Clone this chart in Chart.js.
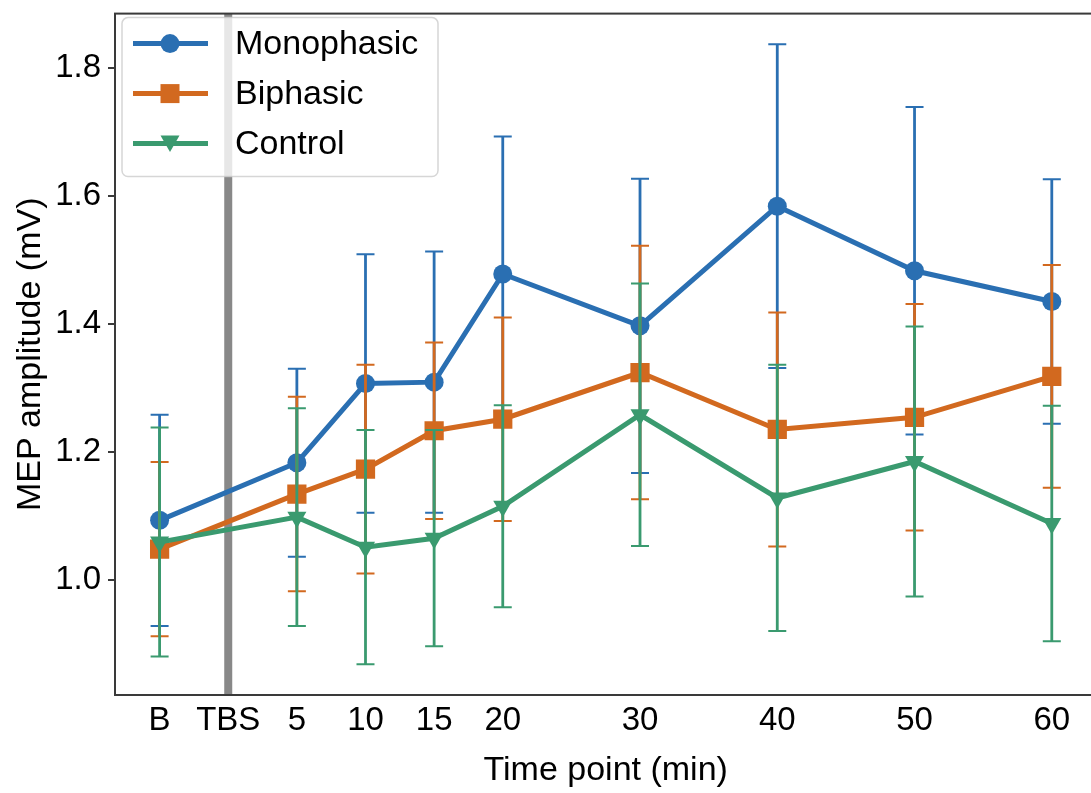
<!DOCTYPE html>
<html>
<head>
<meta charset="utf-8">
<script src="https://cdn.jsdelivr.net/npm/chart.js@4.4.1/dist/chart.umd.min.js"></script>
<style>
  html, body { margin: 0; padding: 0; background: #fff; overflow: hidden; }
  #wrap { width: 1110px; height: 793px; position: relative; }
</style>
</head>
<body>
<div id="wrap"><canvas id="chart"></canvas></div>
<script>
'use strict';

// time points in minutes (B = -5, TBS = 0)
const timePoints = [-5, 5, 10, 15, 20, 30, 40, 50, 60];
const xTickValues = [-5, 0, 5, 10, 15, 20, 30, 40, 50, 60];
const xTickLabels = ['B', 'TBS', '5', '10', '15', '20', '30', '40', '50', '60'];
const yTickValues = [1.0, 1.2, 1.4, 1.6, 1.8];
const tbsPosition = 0;

const monoMean = [1.093, 1.183, 1.307, 1.309, 1.478, 1.397, 1.584, 1.483, 1.435];
const monoErr = [0.165, 0.147, 0.202, 0.204, 0.215, 0.230, 0.253, 0.256, 0.191];
const biMean = [1.048, 1.134, 1.173, 1.233, 1.251, 1.324, 1.235, 1.254, 1.318];
const biErr = [0.136, 0.152, 0.163, 0.138, 0.159, 0.198, 0.183, 0.177, 0.174];
const ctrlMean = [1.059, 1.098, 1.051, 1.065, 1.115, 1.258, 1.128, 1.185, 1.088];
const ctrlErr = [0.179, 0.170, 0.183, 0.169, 0.158, 0.205, 0.208, 0.211, 0.184];

const COLORS = { mono: '#2a6fb2', bi: '#d2691f', ctrl: '#3a9a6f' };
const FONT = '"Liberation Sans", Arial, Helvetica, sans-serif';

function toPoints(means) {
  return timePoints.map((t, i) => ({ x: t, y: means[i] }));
}

function makeDataset(label, means, errs, color, style, radius, rotation, order) {
  return {
    label,
    data: toPoints(means),
    errors: errs,
    borderColor: color,
    backgroundColor: color,
    borderWidth: 5,
    pointStyle: style,
    pointRadius: radius,
    pointRotation: rotation,
    pointBorderWidth: 0,
    pointBackgroundColor: color,
    tension: 0,
    order
  };
}

// error bars drawn just before each dataset so that stacking matches
const errorBars = {
  id: 'errorBars',
  beforeDatasetDraw(chart, args) {
    const ds = chart.data.datasets[args.index];
    const yScale = chart.scales.y;
    const ctx = chart.ctx;
    ctx.save();
    ctx.strokeStyle = ds.borderColor;
    args.meta.data.forEach((pt, i) => {
      const v = ds.data[i].y;
      const e = ds.errors[i];
      const top = yScale.getPixelForValue(v + e);
      const bot = yScale.getPixelForValue(v - e);
      ctx.lineWidth = 2.8;
      ctx.beginPath();
      ctx.moveTo(pt.x, top);
      ctx.lineTo(pt.x, bot);
      ctx.stroke();
      ctx.lineWidth = 2;
      ctx.beginPath();
      ctx.moveTo(pt.x - 9, top);
      ctx.lineTo(pt.x + 9, top);
      ctx.moveTo(pt.x - 9, bot);
      ctx.lineTo(pt.x + 9, bot);
      ctx.stroke();
    });
    ctx.restore();
  }
};

const tbsLine = {
  id: 'tbsLine',
  beforeDatasetsDraw(chart) {
    const { ctx, chartArea } = chart;
    const x = chart.scales.x.getPixelForValue(tbsPosition);
    ctx.save();
    ctx.strokeStyle = '#888888';
    ctx.lineWidth = 8;
    ctx.beginPath();
    ctx.moveTo(x, chartArea.top);
    ctx.lineTo(x, chartArea.bottom);
    ctx.stroke();
    ctx.restore();
  }
};

function drawMarker(ctx, style, x, y, color) {
  ctx.fillStyle = color;
  ctx.beginPath();
  if (style === 'circle') {
    ctx.arc(x, y, 9.5, 0, Math.PI * 2);
  } else if (style === 'rect') {
    ctx.rect(x - 9.5, y - 9.5, 19, 19);
  } else {
    ctx.moveTo(x - 9.5, y - 8);
    ctx.lineTo(x + 9.5, y - 8);
    ctx.lineTo(x, y + 8.5);
    ctx.closePath();
  }
  ctx.fill();
}

const frameAndLegend = {
  id: 'frameAndLegend',
  afterDatasetsDraw(chart) {
    const { ctx, chartArea } = chart;
    ctx.save();
    ctx.strokeStyle = '#3a3a3a';
    ctx.lineWidth = 2;
    ctx.strokeRect(chartArea.left, chartArea.top, chartArea.right - chartArea.left, chartArea.bottom - chartArea.top);

    // legend box
    const bx = chartArea.left + 7, by = chartArea.top + 4, bw = 316, bh = 159, r = 6;
    ctx.beginPath();
    ctx.moveTo(bx + r, by);
    ctx.arcTo(bx + bw, by, bx + bw, by + bh, r);
    ctx.arcTo(bx + bw, by + bh, bx, by + bh, r);
    ctx.arcTo(bx, by + bh, bx, by, r);
    ctx.arcTo(bx, by, bx + bw, by, r);
    ctx.closePath();
    ctx.fillStyle = 'rgba(255,255,255,0.8)';
    ctx.fill();
    ctx.strokeStyle = 'rgba(204,204,204,0.8)';
    ctx.lineWidth = 1.5;
    ctx.stroke();

    const rows = [...chart.data.datasets].sort((a, b) => b.order - a.order);
    rows.forEach((ds, i) => {
      const y = by + 26 + i * 50;
      ctx.strokeStyle = ds.borderColor;
      ctx.lineWidth = 5;
      ctx.beginPath();
      ctx.moveTo(bx + 11, y);
      ctx.lineTo(bx + 86, y);
      ctx.stroke();
      drawMarker(ctx, ds.pointStyle, bx + 48, y, ds.borderColor);
      ctx.fillStyle = '#000';
      ctx.font = '34px ' + FONT;
      ctx.textBaseline = 'middle';
      ctx.textAlign = 'left';
      ctx.fillText(ds.label, bx + 113, y + 1);
    });
    ctx.restore();
  }
};

const datasets = [
  makeDataset('Monophasic', monoMean, monoErr, COLORS.mono, 'circle', 9.5, 0, 3),
  makeDataset('Biphasic', biMean, biErr, COLORS.bi, 'rect', 13.6, 0, 2),
  makeDataset('Control', ctrlMean, ctrlErr, COLORS.ctrl, 'triangle', 11, 180, 1)
];

new Chart(document.getElementById('chart'), {
  type: 'line',
  data: { datasets },
  options: {
    responsive: true,
    maintainAspectRatio: false,
    animation: false,
    layout: { padding: { top: 12, right: 13, bottom: 0, left: 0 } },
    plugins: {
      legend: { display: false },
      tooltip: { enabled: false }
    },
    scales: {
      x: {
        type: 'linear',
        min: -8.25,
        max: 63.25,
        afterFit: scale => {
          scale.height = 98;
          scale.paddingLeft = 0;
          scale.paddingRight = 0;
        },
        afterBuildTicks: scale => { scale.ticks = xTickValues.map(v => ({ value: v })); },
        grid: { display: false, drawTicks: false },
        border: { display: false },
        ticks: {
          autoSkip: false,
          maxRotation: 0,
          padding: 6,
          color: '#000',
          font: { family: FONT, size: 33 },
          callback: v => xTickLabels[xTickValues.indexOf(v)]
        },
        title: {
          display: true,
          text: 'Time point (min)',
          color: '#000',
          font: { family: FONT, size: 34 },
          padding: { top: 2, bottom: 2 }
        }
      },
      y: {
        min: 0.82,
        max: 1.885,
        afterFit: scale => {
          scale.width = 115;
          scale.paddingTop = 0;
          scale.paddingBottom = 0;
        },
        afterBuildTicks: scale => { scale.ticks = yTickValues.map(v => ({ value: v })); },
        grid: { drawOnChartArea: false, drawTicks: true, tickLength: 7, tickColor: '#3a3a3a', lineWidth: 2 },
        border: { display: false },
        ticks: {
          padding: 7,
          color: '#000',
          font: { family: FONT, size: 33 },
          callback: v => v.toFixed(1)
        },
        title: {
          display: true,
          text: 'MEP amplitude (mV)',
          color: '#000',
          font: { family: FONT, size: 34 },
          padding: { top: 10, bottom: 0 }
        }
      }
    }
  },
  plugins: [errorBars, tbsLine, frameAndLegend]
});
</script>
</body>
</html>
